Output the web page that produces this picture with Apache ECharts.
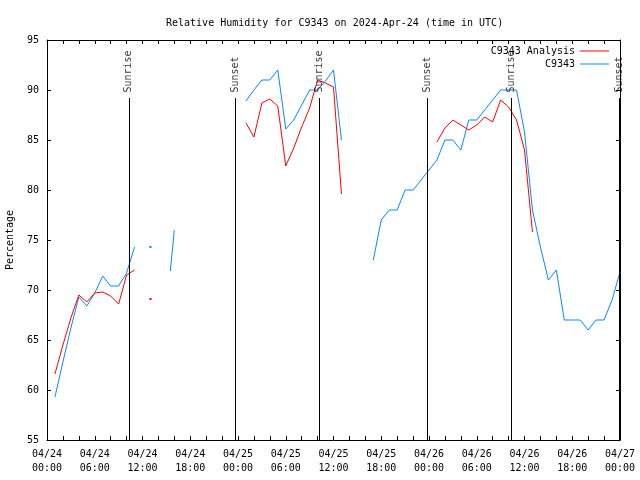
<!DOCTYPE html>
<html>
<head>
<meta charset="utf-8">
<script src="https://cdn.jsdelivr.net/npm/echarts@6/dist/echarts.min.js"></script>
<style>html,body{margin:0;padding:0;background:#fff}#c{width:640px;height:480px}</style>
</head>
<body>
<div id="c"></div>
<script>
// ---- data (times in UTC) ----
const times = [
  "2024-04-24 01:00","2024-04-24 02:00","2024-04-24 03:00","2024-04-24 04:00","2024-04-24 05:00",
  "2024-04-24 06:00","2024-04-24 07:00","2024-04-24 08:00","2024-04-24 09:00","2024-04-24 10:00",
  "2024-04-24 11:00","2024-04-24 12:00","2024-04-24 13:00","2024-04-24 14:00","2024-04-24 15:30",
  "2024-04-24 16:00","2024-04-24 17:00",
  "2024-04-25 01:00","2024-04-25 02:00","2024-04-25 03:00","2024-04-25 04:00","2024-04-25 05:00",
  "2024-04-25 06:00","2024-04-25 07:00","2024-04-25 08:00","2024-04-25 09:00","2024-04-25 10:00",
  "2024-04-25 11:00","2024-04-25 12:00","2024-04-25 13:00","2024-04-25 14:00",
  "2024-04-25 17:00","2024-04-25 18:00","2024-04-25 19:00","2024-04-25 20:00","2024-04-25 21:00",
  "2024-04-25 22:00","2024-04-25 23:00",
  "2024-04-26 00:00","2024-04-26 01:00","2024-04-26 02:00","2024-04-26 03:00","2024-04-26 04:00",
  "2024-04-26 05:00","2024-04-26 06:00","2024-04-26 07:00","2024-04-26 08:00","2024-04-26 09:00",
  "2024-04-26 10:00","2024-04-26 11:00","2024-04-26 12:00","2024-04-26 13:00","2024-04-26 14:00",
  "2024-04-26 15:00","2024-04-26 16:00","2024-04-26 17:00","2024-04-26 18:00","2024-04-26 19:00",
  "2024-04-26 20:00","2024-04-26 21:00","2024-04-26 22:00","2024-04-26 23:00","2024-04-27 00:00"
];
const c9343 = [
  59.3, 62.8, 66.2, 69.3, 68.4,
  69.7, 71.4, 70.4, 70.4, 71.7,
  74.3, null, 74.3, null, 71.9,
  76.0, null,
  88.9, 90.0, 91.0, 91.0, 92.0,
  86.1, 87.0, 88.5, 90.0, 90.0,
  90.9, 92.0, 85.0, null,
  73.0, 77.0, 78.0, 78.0, 80.0,
  80.0, 81.0,
  82.0, 83.0, 85.0, 85.0, 84.0,
  87.0, 87.0, 88.0, 89.0, 90.0,
  90.0, 90.0, 85.8, 78.0, 74.3,
  71.0, 72.0, 67.0, 67.0, 67.0,
  66.0, 67.0, 67.0, 69.0, 71.8
];
const analysis = [
  61.6, 64.5, 67.2, 69.5, 68.8,
  69.7, 69.8, 69.4, 68.6, 71.5,
  72.0, null, 69.1, null, null,
  null, null,
  86.7, 85.3, 88.7, 89.1, 88.4,
  82.4, 84.2, 86.3, 88.2, 91.0,
  90.7, 90.3, 79.6, null,
  null, null, null, null, null,
  null, null,
  null, 84.8, 86.2, 87.0, 86.5,
  86.0, 86.5, 87.3, 86.8, 89.0,
  88.3, 87.0, 84.0, 75.8, null,
  null, null, null, null, null,
  null, null, null, null, null
];
const eventTimes = ["2024-04-24 10:17","2024-04-24 23:43","2024-04-25 10:15","2024-04-25 23:48","2024-04-26 10:20","2024-04-26 23:52"];
const eventNames = ["Sunrise","Sunset","Sunrise","Sunset","Sunrise","Sunset"];
const seriesNames = ["C9343 Analysis","C9343"];
const yTicks = {min: 55, max: 95, step: 5};

// ---- helpers ----
const T0 = Date.UTC(2024, 3, 24, 0, 0);
function hrs(s) {
  const [d, t] = s.split(" ");
  const [Y, M, D] = d.split("-").map(Number);
  const [h, m] = t.split(":").map(Number);
  return (Date.UTC(Y, M - 1, D, h, m) - T0) / 3600000;
}
function pad(n){ return (n < 10 ? "0" : "") + n; }
function build(vals) {
  return vals.map((v, i) => {
    const x = hrs(times[i]);
    if (v === null) return [x, null];
    const prev = i > 0 ? vals[i - 1] : null;
    const next = i < vals.length - 1 ? vals[i + 1] : null;
    if (prev === null && next === null) {
      return {value: [x, v], symbol: 'rect', symbolSize: 2};
    }
    return [x, v];
  });
}
const FONT = "'DejaVu Sans Mono', 'Liberation Mono', monospace";
const txt = {fontFamily: FONT, fontSize: 10, color: '#000'};

const chart = echarts.init(document.getElementById('c'), null, {renderer: 'canvas'});
const xCommon = {
  type: 'value', min: 0, max: 72, interval: 2,
  axisLine: {show: true, onZero: false, lineStyle: {color: '#000', width: 1}},
  axisTick: {show: true, inside: true, length: 4, lineStyle: {color: '#000'}},
  splitLine: {show: false}
};
const yCommon = {
  type: 'value', min: yTicks.min, max: yTicks.max, interval: yTicks.step,
  axisLine: {show: true, onZero: false, lineStyle: {color: '#000', width: 1}},
  axisTick: {show: true, inside: true, length: 4, lineStyle: {color: '#000'}},
  splitLine: {show: false}
};

const option = {
  animation: false,
  backgroundColor: '#fff',
  title: {
    text: 'Relative Humidity for C9343 on 2024-Apr-24 (time in UTC)',
    left: 161, top: 13,
    textStyle: Object.assign({fontWeight: 'normal'}, txt)
  },
  grid: {left: 47, right: 20, top: 40, bottom: 40, containLabel: false, outerBoundsMode: 'none'},
  legend: [
    {data: [seriesNames[0]], right: 31, top: 46, orient: 'vertical', align: 'right', padding: 0,
     itemWidth: 29, itemHeight: 12, itemGap: 0, icon: 'path://M0,5.5 L29,5.5 L29,6.5 L0,6.5 Z',
     textStyle: txt, selectedMode: false},
    {data: [seriesNames[1]], right: 31, top: 59, orient: 'vertical', align: 'right', padding: 0,
     itemWidth: 29, itemHeight: 12, itemGap: 0, icon: 'path://M0,5.5 L29,5.5 L29,6.5 L0,6.5 Z',
     textStyle: txt, selectedMode: false}
  ],
  xAxis: [
    Object.assign({}, xCommon, {
      position: 'bottom',
      axisLabel: Object.assign({
        show: true, margin: 7, lineHeight: 14, showMaxLabel: true, showMinLabel: true,
        formatter: function (v) {
          if (v % 6 !== 0) return '';
          const day = 24 + Math.floor(v / 24);
          const hr = v % 24;
          return '04/' + pad(day) + '\n' + pad(hr) + ':00';
        }
      }, txt)
    }),
    Object.assign({}, xCommon, {position: 'top', axisLabel: {show: false}})
  ],
  yAxis: [
    Object.assign({}, yCommon, {
      position: 'left',
      name: 'Percentage', nameLocation: 'middle', nameGap: 32, nameRotate: 90,
      nameTextStyle: txt,
      axisLabel: Object.assign({margin: 8}, txt)
    }),
    Object.assign({}, yCommon, {position: 'right', axisLabel: {show: false}})
  ],
  series: [
    {
      name: seriesNames[0], type: 'line', xAxisIndex: 0, yAxisIndex: 0,
      data: build(analysis), symbol: 'none', showSymbol: true, connectNulls: false,
      lineStyle: {color: '#ff0000', width: 1}, itemStyle: {color: '#ff0000'},
      z: 3
    },
    {
      name: seriesNames[1], type: 'line', xAxisIndex: 0, yAxisIndex: 0,
      data: build(c9343), symbol: 'none', showSymbol: true, connectNulls: false,
      lineStyle: {color: '#0a88ff', width: 1}, itemStyle: {color: '#0a88ff'},
      z: 2
    },
    {
      name: 'events', type: 'scatter', xAxisIndex: 0, yAxisIndex: 0,
      symbolSize: 1, itemStyle: {color: 'rgba(0,0,0,0)'}, silent: true, clip: false,
      data: eventTimes.map((t, i) => ({value: [hrs(t), 89.75], name: eventNames[i]})),
      label: Object.assign({
        show: true, position: 'inside', rotate: 90, align: 'left', verticalAlign: 'middle',
        formatter: p => p.name
      }, txt),
      markLine: {
        silent: true, symbol: ['none', 'none'],
        lineStyle: {color: '#000', width: 1, type: 'solid'},
        label: {show: false},
        data: eventTimes.map(t => [{coord: [hrs(t), 55]}, {coord: [hrs(t), 89.2]}])
      },
      z: 4
    }
  ]
};
chart.setOption(option);
</script>
</body>
</html>
